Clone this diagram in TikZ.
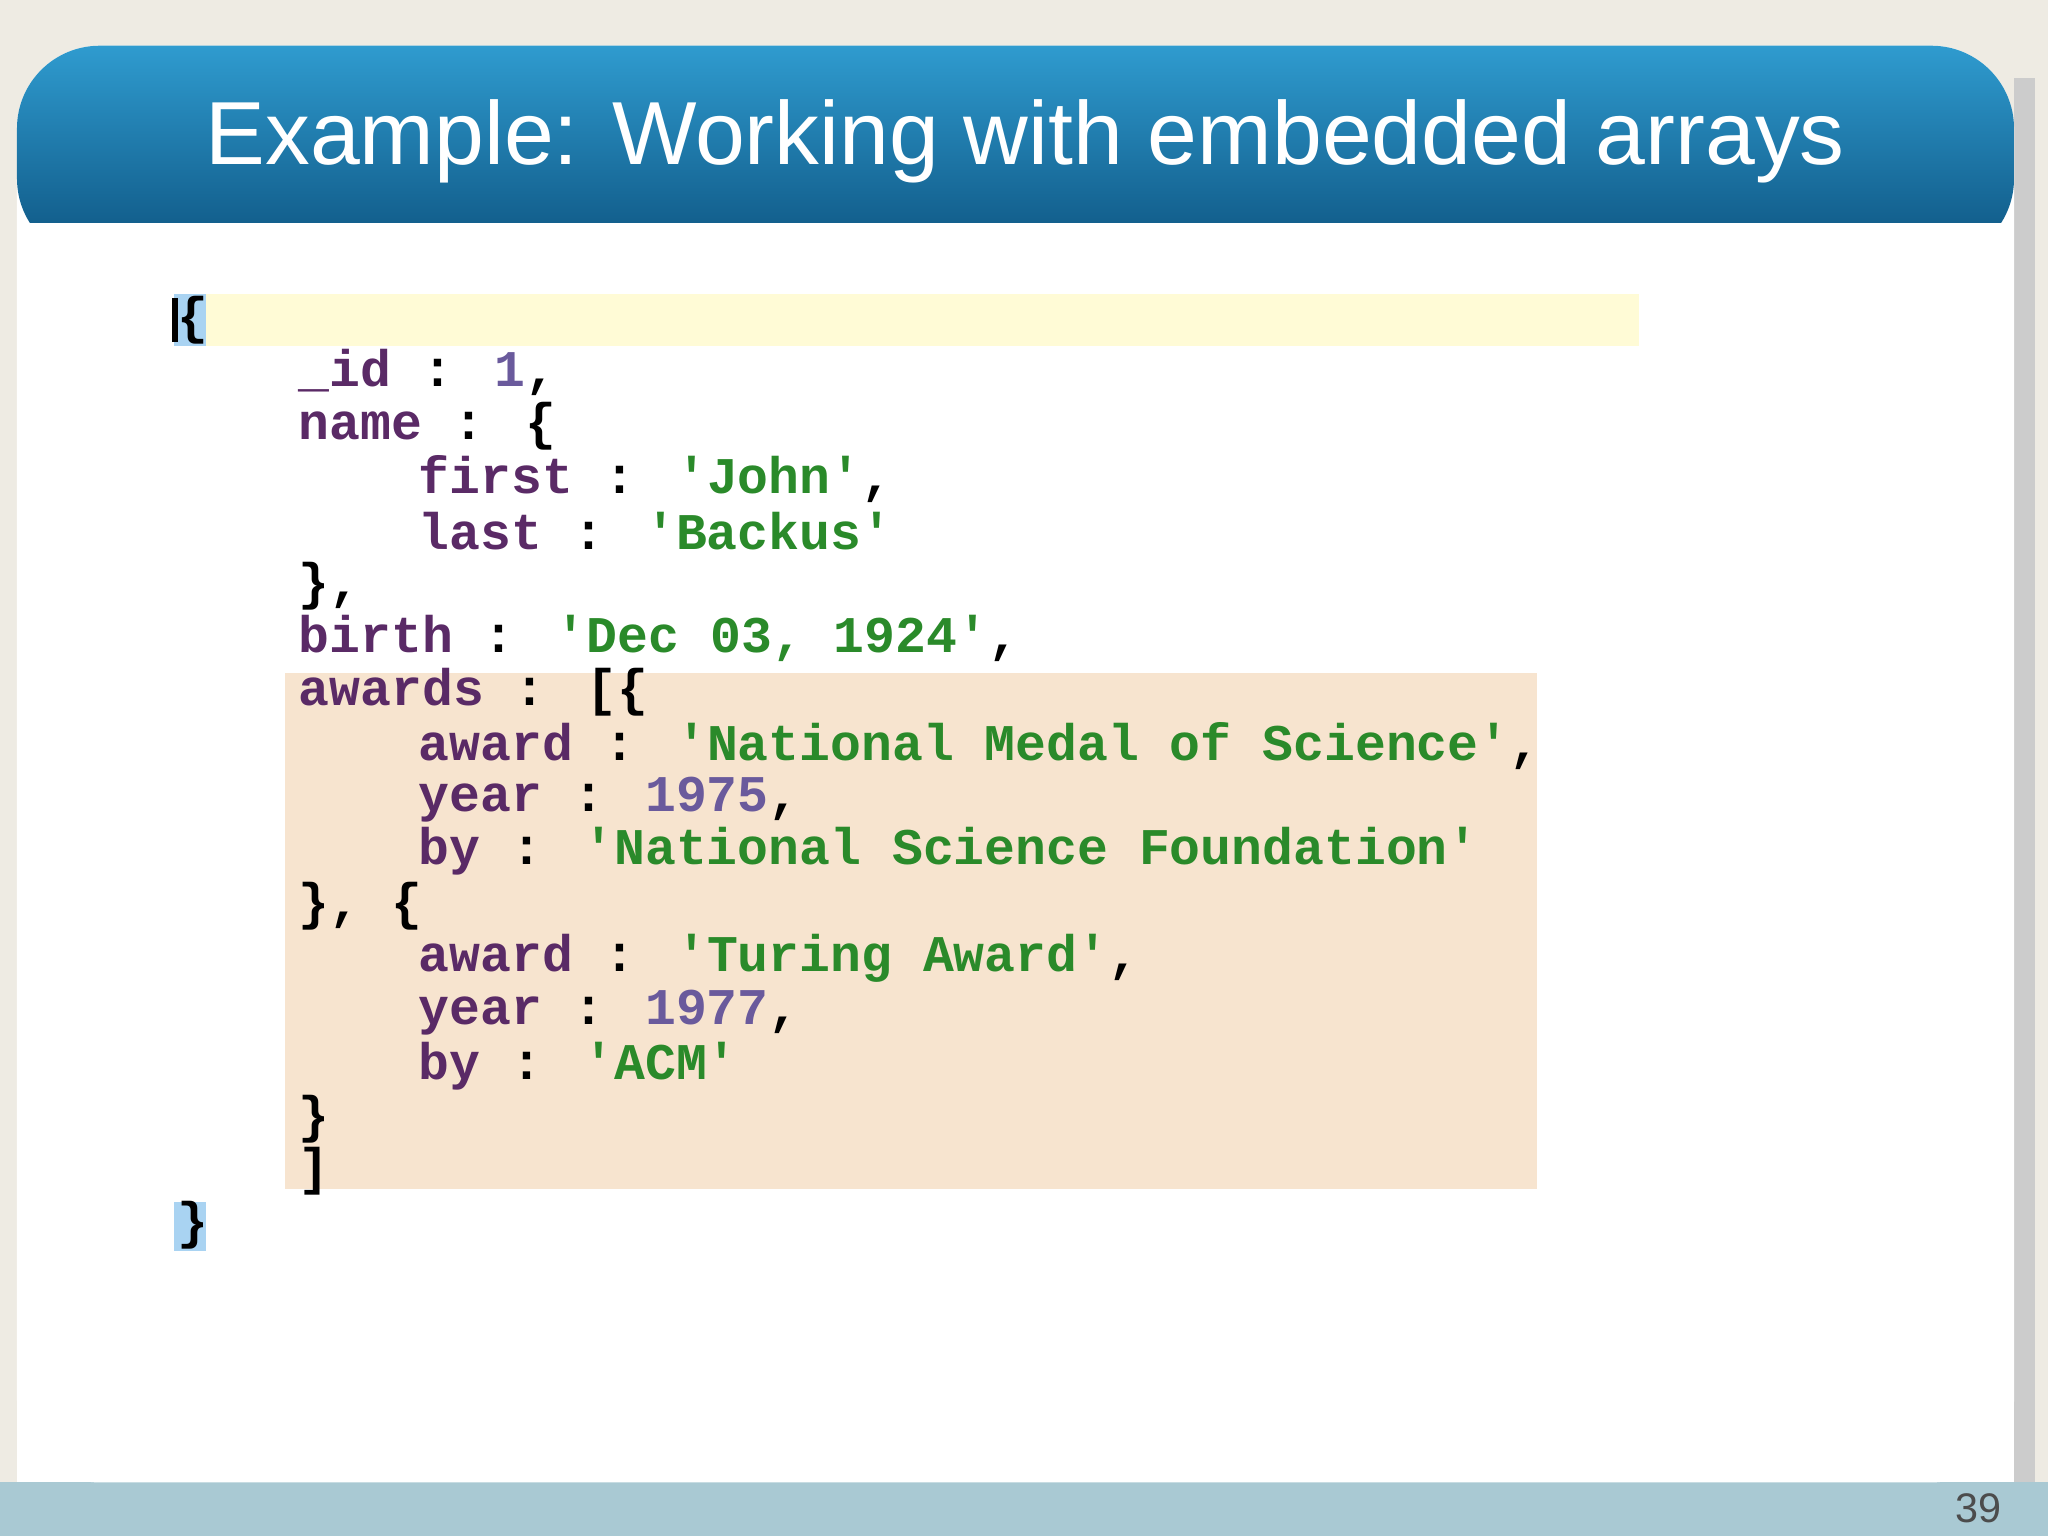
\documentclass[tikz,border=0pt]{standalone}
\usepackage{fontspec}
\setmainfont{Liberation Sans}
\newfontfamily\codefont{Liberation Mono}
\definecolor{slidebg}{HTML}{EEEBE3}
\definecolor{headtop}{HTML}{2F9BCF}
\definecolor{headbot}{HTML}{13608E}
\definecolor{footband}{HTML}{A9C9D3}
\definecolor{lineyel}{HTML}{FFFBD6}
\definecolor{arrbox}{HTML}{F7E4CF}
\definecolor{bracesel}{HTML}{A9D3F2}
\definecolor{keycol}{HTML}{5A2A66}
\definecolor{numcol}{HTML}{6A5A9C}
\definecolor{strcol}{HTML}{2A8A2A}
\newcommand{\ky}[1]{\textcolor{keycol}{#1}}
\newcommand{\nm}[1]{\textcolor{numcol}{#1}}
\newcommand{\st}[1]{\textcolor{strcol}{#1}}
\tikzset{
  codeline/.style={anchor=west,inner sep=0pt,font=\codefont\bfseries\fontsize{11.2pt}{13pt}\selectfont}
}
\begin{document}
\begin{tikzpicture}[x=0.01cm,y=-0.01cm]
\useasboundingbox (0,0) rectangle (1568,1176);
\fill[slidebg] (0,0) rectangle (1568,1176);
\fill[footband] (0,1135) rectangle (1568,1176);
\fill[gray!40] (1542,60) rectangle (1558,1135);
\fill[white,rounded corners=18] (13,35) rectangle (1542,1135);
\fill[white] (13,150) rectangle (1542,1135);
\begin{scope}
\clip[rounded corners=18] (13,35) rectangle (1542,200);
\shade[top color=headtop,bottom color=headbot] (13,35) rectangle (1542,170);
\end{scope}
\node[white,font=\fontsize{19.5pt}{22pt}\selectfont] (title) at (785,108) {Example: Working with embedded arrays};
\node[font=\small,text=black!70] (pagenum) at (1515,1155) {39};
% highlights
\fill[lineyel] (133,225) rectangle (1255,265);
\fill[arrbox] (218,515) rectangle (1177,910);
\fill[bracesel] (133,225) rectangle (158,265);
\fill[bracesel] (133,920) rectangle (158,958);
\draw[line width=1.5pt] (134,228) -- (134,262);
% code lines
\node[codeline] (l0) at (135,245) {\{};
\node[codeline] (l1) at (228,285) {\ky{\_id} : \nm{1},};
\node[codeline] (l2) at (228,326) {\ky{name} : \{};
\node[codeline] (l3) at (320,367) {\ky{first} : \st{'John'},};
\node[codeline] (l4) at (320,407) {\ky{last} : \st{'Backus'}};
\node[codeline] (l5) at (228,449) {\},};
\node[codeline] (l6) at (228,489) {\ky{birth} : \st{'Dec 03, 1924'},};
\node[codeline] (l7) at (228,530) {\ky{awards} : [\{};
\node[codeline] (l8) at (320,571) {\ky{award} : \st{'National Medal of Science'},};
\node[codeline] (l9) at (320,612) {\ky{year} : \nm{1975},};
\node[codeline] (l10) at (320,652) {\ky{by} : \st{'National Science Foundation'}};
\node[codeline] (l11) at (228,694) {\}, \{};
\node[codeline] (l12) at (320,734) {\ky{award} : \st{'Turing Award'},};
\node[codeline] (l13) at (320,775) {\ky{year} : \nm{1977},};
\node[codeline] (l14) at (320,816) {\ky{by} : \st{'ACM'}};
\node[codeline] (l15) at (228,857) {\}};
\node[codeline] (l16) at (228,897) {]};
\node[codeline] (l17) at (135,938) {\}};
\end{tikzpicture}
\end{document}
